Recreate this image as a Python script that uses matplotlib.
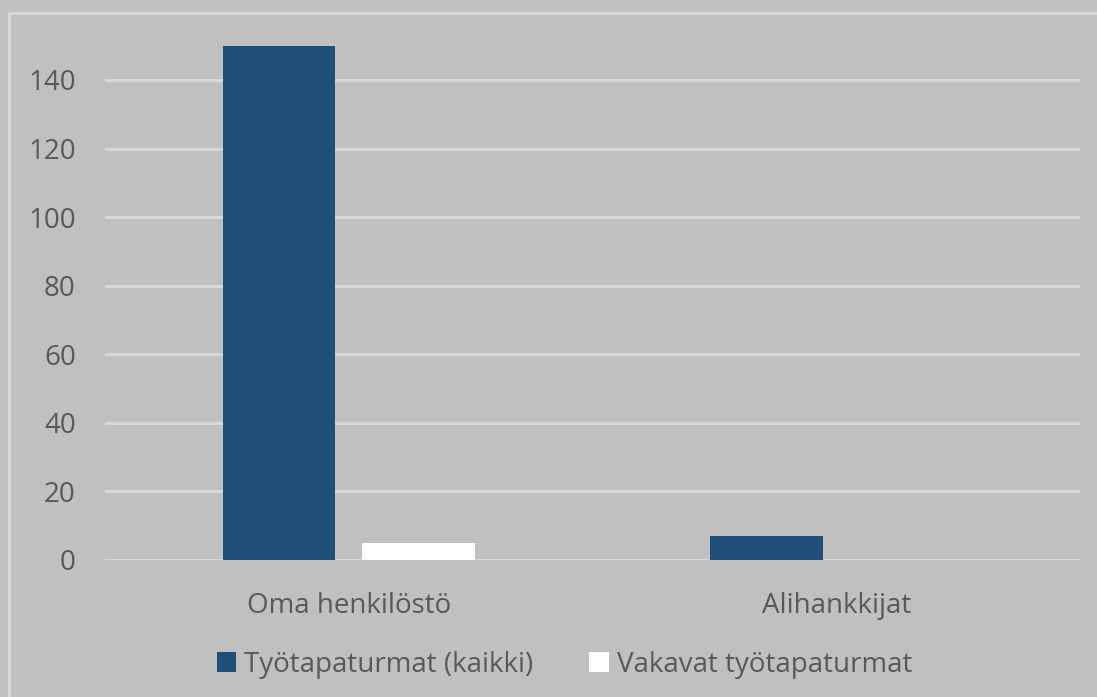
import numpy as np
import matplotlib
matplotlib.use('Agg')
import matplotlib.pyplot as plt
from matplotlib.patches import Rectangle

categories = ['Oma henkilöstö', 'Alihankkijat']
kaikki = [150, 7]  # Työtapaturmat (kaikki)
vakavat = [5, 0]   # Vakavat työtapaturmat
series_names = ['Työtapaturmat (kaikki)', 'Vakavat työtapaturmat']
yticks = [0, 20, 40, 60, 80, 100, 120, 140]

bg = '#c0c0c0'
txt = '#595959'
grid_col = '#d9d9d9'
plt.rcParams['font.family'] = ['Open Sans', 'DejaVu Sans']

fig = plt.figure(figsize=(10.97, 6.97), dpi=100, facecolor=bg)
# light border round the chart area
fig.patches.append(Rectangle((8.5/1097, -0.1), 1.2, 1 - 13/697 + 0.1,
                             transform=fig.transFigure, fill=False,
                             edgecolor=grid_col, linewidth=2))

ax = fig.add_axes([105/1097, 1 - 560/697, 975/1097, (560 - 11.4)/697])
ax.set_facecolor(bg)

x = np.arange(len(categories))
w = 0.23
ax.bar(x - 0.143, kaikki, w, color='#1f4e79', label=series_names[0], zorder=3)
ax.bar(x + 0.143, vakavat, w, color='white', label=series_names[1], zorder=3)

ax.set_xlim(-0.5, 1.5)
ax.set_ylim(0, 160)
ax.set_yticks(yticks)
ax.set_xticks(x)
ax.set_xticklabels(categories)
ax.grid(axis='y', color=grid_col, linewidth=2, zorder=0)
for s in ax.spines.values():
    s.set_visible(False)
ax.tick_params(length=0, colors=txt, labelsize=20)
ax.tick_params(axis='y', pad=21)
ax.tick_params(axis='x', pad=23)

h, l = ax.get_legend_handles_labels()
fig.legend(h, l, loc='center', bbox_to_anchor=(564.5/1097, 1 - 665/697), ncol=2,
           frameon=False, fontsize=20, labelcolor=txt, handlelength=0.7,
           handleheight=0.75, handletextpad=0.3, columnspacing=2.0,
           borderpad=0, borderaxespad=0)

plt.savefig('out.png', dpi=100, facecolor=bg)
